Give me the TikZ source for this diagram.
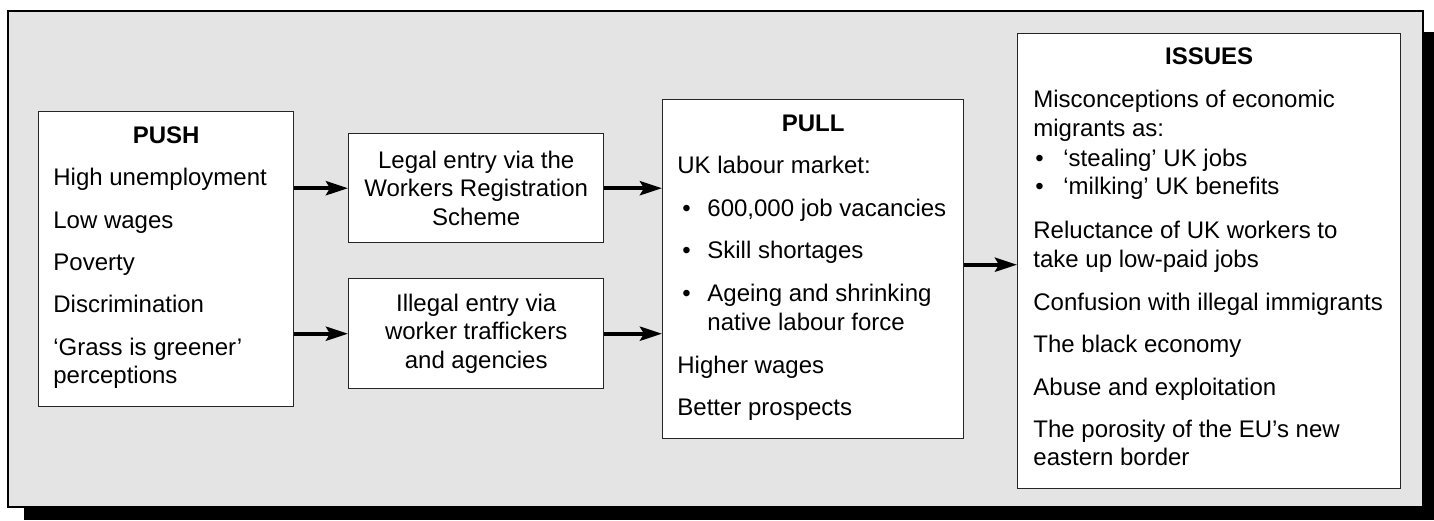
\documentclass[tikz,border=0pt]{standalone}
\usepackage{fontspec}
\setmainfont{Liberation Sans}
\usetikzlibrary{arrows.meta}
\definecolor{panelgray}{HTML}{E4E4E4}
\begin{document}
\begin{tikzpicture}[x=0.5pt,y=-0.5pt,
    font=\fontsize{12}{14.25}\selectfont,
    box/.style={draw=black!85,line width=0.7pt,fill=white,inner sep=0pt,anchor=north west},
    item/.style={anchor=base west,inner sep=0pt},
    head/.style={anchor=base,inner sep=0pt,font=\fontsize{12}{14.25}\selectfont\bfseries},
    flow/.style={line width=2pt,-{Stealth[length=11pt,width=7pt,inset=2pt]}}]
  \useasboundingbox (0,0) rectangle (1434,520);
  % panel with its shadow
  \fill[black] (24,32) rectangle (1434,520);
  \draw[line width=1pt,fill=panelgray] (8,11) rectangle (1423,507);

  \node[box,minimum width=127.5pt,minimum height=147.5pt] (push) at (38,111) {};
  \node[box,align=center,minimum width=127.5pt,minimum height=54.5pt] (legal) at (348,133) {Legal entry via the\\Workers Registration\\Scheme};
  \node[box,align=center,minimum width=127.5pt,minimum height=55pt] (illegal) at (348,278) {Illegal entry via\\worker traffickers\\and agencies};
  \node[box,minimum width=150.5pt,minimum height=169.5pt] (pull) at (662,99) {};
  \node[box,minimum width=191.5pt,minimum height=227.5pt] (issues) at (1017,33) {};

  \node[head] (pushhd) at ([yshift=-16pt]push.north) {PUSH};
  \node[head] (pullhd) at ([yshift=-16pt]pull.north) {PULL};
  \node[head] (issueshd) at ([yshift=-15.5pt]issues.north) {ISSUES};

  \foreach \x/\y/\t [count=\i] in {53/185/High unemployment,53/228/Low wages,
      53/270/Poverty,53/312/Discrimination,53/355/‘Grass is greener’,53/383/perceptions}
    \node[item] (pushln\i) at (\x,\y) {\t};

  \foreach \x/\y/\t [count=\i] in {677/173/UK labour market:,
      682/216/•,707/216/{600,000 job vacancies},682/258/•,707/258/Skill shortages,
      682/301/•,707/301/Ageing and shrinking,707/330/native labour force,
      677/373/Higher wages,677/415/Better prospects}
    \node[item] (pullln\i) at (\x,\y) {\t};

  \foreach \x/\y/\t [count=\i] in {1033/107/Misconceptions of economic,1033/136/migrants as:,
      1035/166/•,1063/166/‘stealing’ UK jobs,1035/194/•,1063/194/‘milking’ UK benefits,
      1033/238/Reluctance of UK workers to,1033/267/take up low-paid jobs,
      1033/310/Confusion with illegal immigrants,1033/352/The black economy,
      1033/395/Abuse and exploitation,1033/437/The porosity of the EU’s new,
      1033/465/eastern border}
    \node[item] (issuesln\i) at (\x,\y) {\t};

  \coordinate (pullout) at ([yshift=2.25pt]pull.east);
  \draw[flow] (push.east |- legal.west) -- (legal.west);
  \draw[flow] (push.east |- illegal.west) -- (illegal.west);
  \draw[flow] (legal.east) -- (legal.east -| pull.west);
  \draw[flow] (illegal.east) -- (illegal.east -| pull.west);
  \draw[flow] (pullout) -- (pullout -| issues.west);
\end{tikzpicture}
\end{document}
